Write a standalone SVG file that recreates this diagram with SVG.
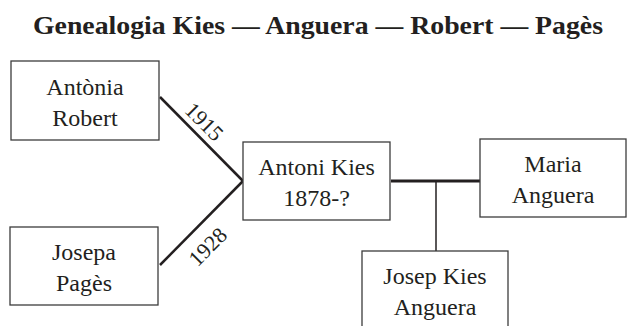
<svg xmlns="http://www.w3.org/2000/svg" width="627" height="326" viewBox="0 0 627 326">
<style>
.box{fill:#fff;stroke:#3c3c3c;stroke-width:1.3}
.lbl{font-family:"Liberation Serif","DejaVu Serif",serif;font-size:24px;fill:#231f20;text-anchor:middle}
.title{font-family:"Liberation Serif","DejaVu Serif",serif;font-size:26px;font-weight:bold;fill:#231f20;text-anchor:middle}
.yr{font-family:"Liberation Serif","DejaVu Serif",serif;font-size:22px;fill:#231f20;text-anchor:middle}
.edge{stroke:#231f20;fill:none}
</style>
<rect width="627" height="326" fill="#fff"/>
<text class="title" x="318" y="34" textLength="570" lengthAdjust="spacingAndGlyphs">Genealogia Kies — Anguera — Robert — Pagès</text>
<g id="connectors">
<line class="edge" x1="160" y1="97" x2="243" y2="181" stroke-width="2.5"/>
<line class="edge" x1="160" y1="265" x2="243" y2="181" stroke-width="2.5"/>
<line class="edge" x1="391" y1="181" x2="480" y2="181" stroke-width="3"/>
<line class="edge" x1="436" y1="181" x2="436" y2="251" stroke-width="1.5"/>
<text class="yr" transform="translate(204,122) rotate(45)" x="0" y="7">1915</text>
<text class="yr" transform="translate(208,247) rotate(-45)" x="0" y="7">1928</text>
</g>
<g id="antonia">
<rect class="box" x="11" y="61" width="148" height="79"/>
<text class="lbl" x="85" y="95">Antònia</text>
<text class="lbl" x="85" y="126">Robert</text>
</g>
<g id="josepa">
<rect class="box" x="10" y="227" width="148" height="78"/>
<text class="lbl" x="84" y="260">Josepa</text>
<text class="lbl" x="84" y="291">Pagès</text>
</g>
<g id="antoni">
<rect class="box" x="243" y="142" width="147" height="78"/>
<text class="lbl" x="316.5" y="175">Antoni Kies</text>
<text class="lbl" x="316.5" y="206">1878-?</text>
</g>
<g id="maria">
<rect class="box" x="480" y="139" width="146" height="78"/>
<text class="lbl" x="553" y="172">Maria</text>
<text class="lbl" x="553" y="203">Anguera</text>
</g>
<g id="josep">
<rect class="box" x="362" y="251" width="146" height="78"/>
<text class="lbl" x="435" y="284">Josep Kies</text>
<text class="lbl" x="435" y="315">Anguera</text>
</g>
</svg>
